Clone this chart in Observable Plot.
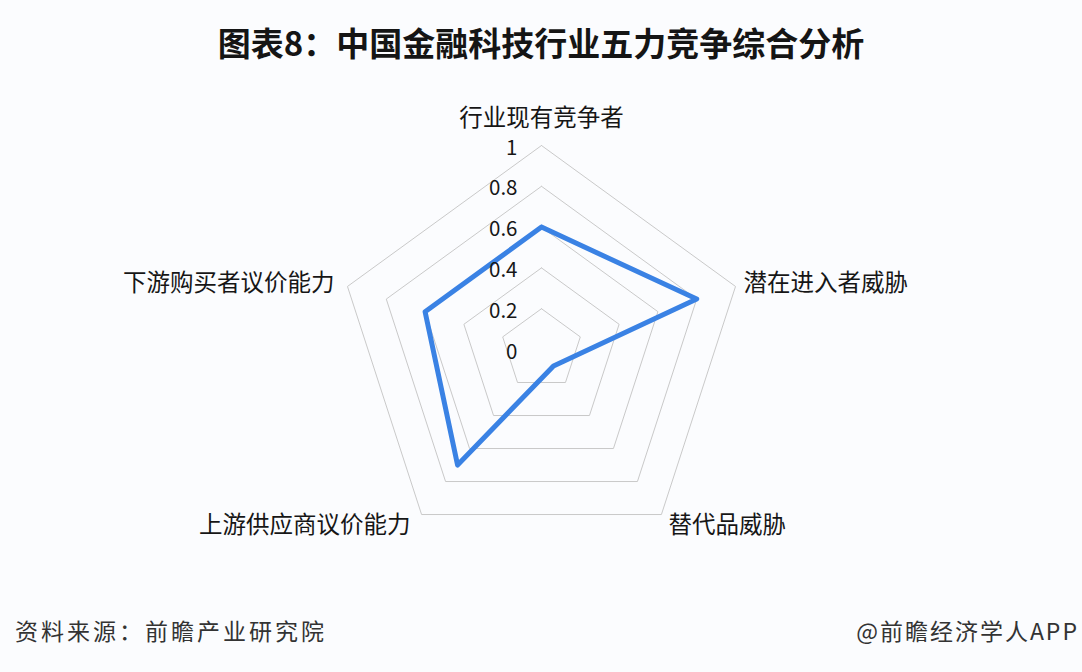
<!DOCTYPE html>
<html><head><meta charset="utf-8">
<script src="https://cdn.jsdelivr.net/npm/d3@7"></script>
<script src="https://cdn.jsdelivr.net/npm/@observablehq/plot@0.6"></script>
<style>
body{margin:0;background:#fbfcfe;width:1082px;height:672px;overflow:hidden;position:relative;font-family:"Noto Sans CJK SC","Noto Sans",sans-serif;}
#title{position:absolute;top:19px;left:0;width:1082px;text-align:center;font-size:33px;font-weight:bold;color:#151515;line-height:46px;}
#chart{position:absolute;top:80px;left:0;}
.foot{position:absolute;top:612px;font-size:23px;color:#333;line-height:36px;white-space:nowrap;}
#src{left:15px;letter-spacing:3px;}
#brand{right:3px;letter-spacing:2px;}
</style>
</head><body>
<div id="title">图表8：中国金融科技行业五力竞争综合分析</div>
<div id="chart"></div>
<div class="foot" id="src">资料来源：前瞻产业研究院</div>
<div class="foot" id="brand">@前瞻经济学人APP</div>
<script>
const axesNames = ["行业现有竞争者","潜在进入者威胁","替代品威胁","上游供应商议价能力","下游购买者议价能力"];
const values = [0.6, 0.8, 0.1, 0.7, 0.6];
const gridLevels = [0.2, 0.4, 0.6, 0.8, 1];
const tickValues = [0, 0.2, 0.4, 0.6, 0.8, 1];
const tickLabels = ["0", "0.2", "0.4", "0.6", "0.8", "1"];

const n = axesNames.length;
const ang = i => (i % n) * 2 * Math.PI / n;
const px = (i, r) => r * Math.sin(ang(i));
const py = (i, r) => r * Math.cos(ang(i));

const gridPts = gridLevels.flatMap(l => d3.range(n + 1).map(i => ({level: l, x: px(i, l), y: py(i, l)})));
const dataPts = d3.range(n + 1).map(i => ({x: px(i, values[i % n]), y: py(i, values[i % n])}));
const tickPts = tickValues.map((v, k) => ({x: 0, y: v, label: tickLabels[k]}));
const labelPts = axesNames.map((name, i) => ({name, i, x: px(i, 1), y: py(i, 1)}));

const W = 1082, H = 520, cx = 541, cy = 269, k = 204;
const labelFont = {fontSize: 23.5, fill: "#161616"};
const chart = Plot.plot({
  width: W, height: H, margin: 0,
  x: {domain: [-cx / k, (W - cx) / k], axis: null},
  y: {domain: [(cy - H) / k, cy / k], axis: null},
  style: {background: "transparent", fontFamily: '"Noto Sans CJK SC", sans-serif'},
  marks: [
    Plot.line(gridPts, {x: "x", y: "y", z: "level", stroke: "#c9c9c9", strokeWidth: 1}),
    Plot.line(dataPts, {x: "x", y: "y", stroke: "#3a82e4", strokeWidth: 5, strokeLinejoin: "round"}),
    Plot.text(tickPts, {x: "x", y: "y", text: "label", textAnchor: "end", dx: -24, dy: 2.5, fontSize: 20.5, fill: "#161616"}),
    Plot.text(labelPts.filter(d => d.i === 0), {x: "x", y: "y", text: "name", textAnchor: "middle", dy: -27, ...labelFont}),
    Plot.text(labelPts.filter(d => d.i === 1), {x: "x", y: "y", text: "name", textAnchor: "start", dx: 8, dy: -3, ...labelFont}),
    Plot.text(labelPts.filter(d => d.i === 2), {x: "x", y: "y", text: "name", textAnchor: "start", dx: 7, dy: 11, ...labelFont}),
    Plot.text(labelPts.filter(d => d.i === 3), {x: "x", y: "y", text: "name", textAnchor: "end", dx: -11, dy: 11, ...labelFont}),
    Plot.text(labelPts.filter(d => d.i === 4), {x: "x", y: "y", text: "name", textAnchor: "end", dx: -13, dy: -3, ...labelFont})
  ]
});
document.getElementById("chart").appendChild(chart);
</script>
</body></html>
